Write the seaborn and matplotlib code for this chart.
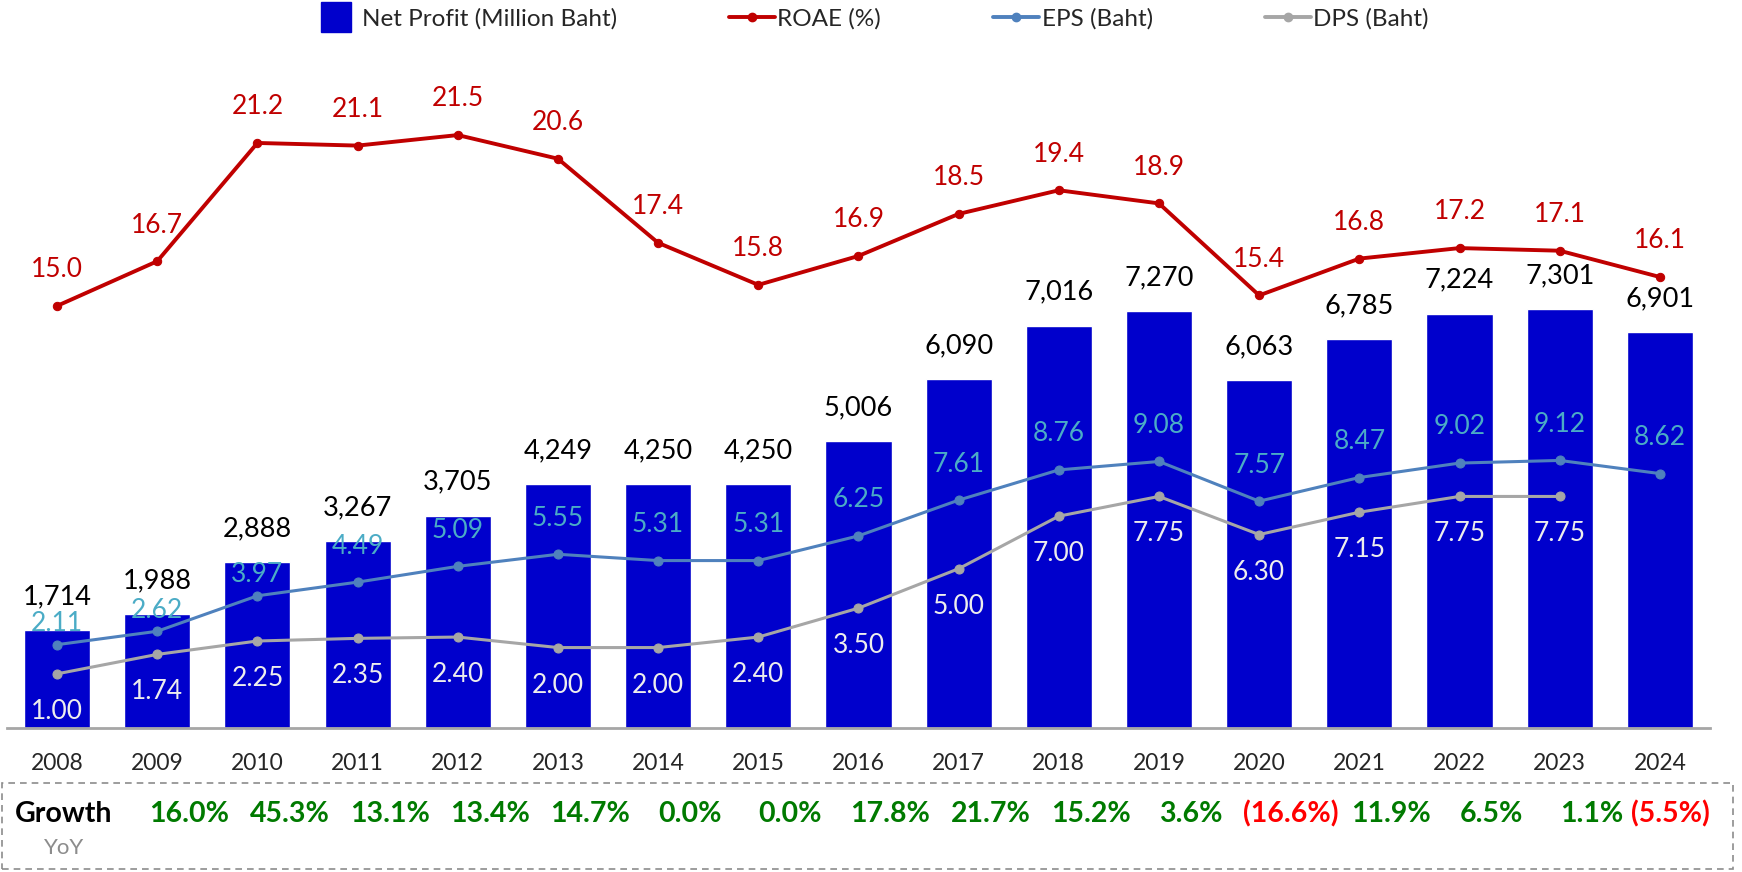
import numpy as np
import pandas as pd
import matplotlib.pyplot as plt
import matplotlib.transforms as mtransforms
from matplotlib.patches import Rectangle
from matplotlib.lines import Line2D
import seaborn as sns

# --- data ---
years = ['2008', '2009', '2010', '2011', '2012', '2013', '2014', '2015', '2016',
         '2017', '2018', '2019', '2020', '2021', '2022', '2023', '2024']
net_profit = [1714, 1988, 2888, 3267, 3705, 4249, 4250, 4250, 5006,
              6090, 7016, 7270, 6063, 6785, 7224, 7301, 6901]
roae = [15.0, 16.7, 21.2, 21.1, 21.5, 20.6, 17.4, 15.8, 16.9,
        18.5, 19.4, 18.9, 15.4, 16.8, 17.2, 17.1, 16.1]
eps = [2.11, 2.62, 3.97, 4.49, 5.09, 5.55, 5.31, 5.31, 6.25,
       7.61, 8.76, 9.08, 7.57, 8.47, 9.02, 9.12, 8.62]
dps = [1.00, 1.74, 2.25, 2.35, 2.40, 2.00, 2.00, 2.40, 3.50,
       5.00, 7.00, 7.75, 6.30, 7.15, 7.75, 7.75, np.nan]
growth = ['16.0%', '45.3%', '13.1%', '13.4%', '14.7%', '0.0%', '0.0%', '17.8%',
          '21.7%', '15.2%', '3.6%', '(16.6%)', '11.9%', '6.5%', '1.1%', '(5.5%)']

BAR = '#0000CC'
RED = '#C00000'
BLUE = '#4F81BD'
BLUE_LBL = '#4BACC6'
GRAY = '#A6A6A6'
GREEN = '#007A00'

sns.set_theme(style='white')
plt.rcParams['font.family'] = ['Lato', 'DejaVu Sans']

df = pd.DataFrame({'year': years, 'net_profit': net_profit, 'roae': roae,
                   'eps': eps, 'dps': dps})
df['idx'] = np.arange(len(years))

fig = plt.figure(figsize=(17.42, 8.72), dpi=100)
ax = fig.add_axes([0.004, 0.165, 0.9776, 0.766])

sns.barplot(data=df, x='year', y='net_profit', color=BAR, saturation=1,
            width=0.66, ax=ax)
ax.set_ylim(0, 11640)
ax.set_xlim(-0.5, 16.5)

ax2 = ax.twinx()
sns.lineplot(data=df, x='idx', y='roae', color=RED, lw=2.8, marker='o',
             ms=6, mec=RED, ax=ax2)
sns.lineplot(data=df, x='idx', y='eps', color=BLUE, lw=2.2, marker='o',
             ms=6.5, mec=BLUE, ax=ax2)
sns.lineplot(data=df.dropna(), x='idx', y='dps', color=GRAY, lw=2.2, marker='o',
             ms=6.5, mec=GRAY, ax=ax2)
ax2.set_ylim(-1.065, 24.35)
ax2.set_xlim(-0.5, 16.5)

# labels
for i, v in enumerate(net_profit):
    ax.annotate(f'{v:,}', (i, v), xytext=(0, 24), textcoords='offset points',
                ha='center', va='center', fontsize=19.5, color='black')
for i, v in enumerate(roae):
    ax2.annotate(f'{v:.1f}', (i, v), xytext=(0, 26), textcoords='offset points',
                 ha='center', va='center', fontsize=19, color=RED)
for i, v in enumerate(eps):
    # the first labels sit lower, just over the short bars
    off = 15 if i < 3 else 26
    ax2.annotate(f'{v:.2f}', (i, v), xytext=(0, off), textcoords='offset points',
                 ha='center', va='center', fontsize=19, color=BLUE_LBL)
for i, v in enumerate(dps):
    if np.isnan(v):
        continue
    ax2.annotate(f'{v:.2f}', (i, v), xytext=(0, -27), textcoords='offset points',
                 ha='center', va='center', fontsize=19, color='#EDEDED')

for a in (ax, ax2):
    a.set_xlabel('')
    a.set_ylabel('')
    a.set_yticks([])
    for s in ('top', 'left', 'right'):
        a.spines[s].set_visible(False)
ax2.spines['bottom'].set_visible(False)
ax.spines['bottom'].set_color(GRAY)
ax.spines['bottom'].set_linewidth(2)
ax.tick_params(axis='x', length=0, pad=18, labelsize=16.5, labelcolor='#262626')
ax2.tick_params(axis='x', length=0, labelbottom=False)

# growth row
trans = mtransforms.blended_transform_factory(ax.transData, fig.transFigure)
ax.text(0.07, 0.0665, 'Growth', transform=trans, ha='center', va='center',
        fontsize=20.5, fontweight='bold', color='black')
ax.text(0.07, 0.0275, 'YoY', transform=trans, ha='center', va='center',
        fontsize=16, color='#8C8C8C')
gx = np.minimum(np.arange(1, len(years)) + 0.32, 16.1)
for x, g in zip(gx, growth):
    c = '#FF0000' if g.startswith('(') else GREEN
    ax.text(x, 0.0665, g, transform=trans, ha='center', va='center',
            fontsize=20.5, fontweight='bold', color=c)
fig.patches.append(Rectangle((0.001, 0.003), 0.994, 0.099, transform=fig.transFigure,
                             fill=False, ec='#8C8C8C', ls=(0, (4, 3)), lw=1.2))

handles = [Line2D([], [], color=BAR, ls='', marker='s', ms=22),
           Line2D([], [], color=RED, lw=2.8, marker='o', ms=6),
           Line2D([], [], color=BLUE, lw=2.8, marker='o', ms=6),
           Line2D([], [], color=GRAY, lw=2.8, marker='o', ms=6)]
fig.legend(handles, ['Net Profit (Million Baht)', 'ROAE (%)', 'EPS (Baht)', 'DPS (Baht)'],
           loc='center', bbox_to_anchor=(0.5, 0.978), ncol=4, frameon=False,
           fontsize=17.5, columnspacing=4.6, handlelength=1.9, handletextpad=0.1)

fig.savefig('out.png', dpi=100)
